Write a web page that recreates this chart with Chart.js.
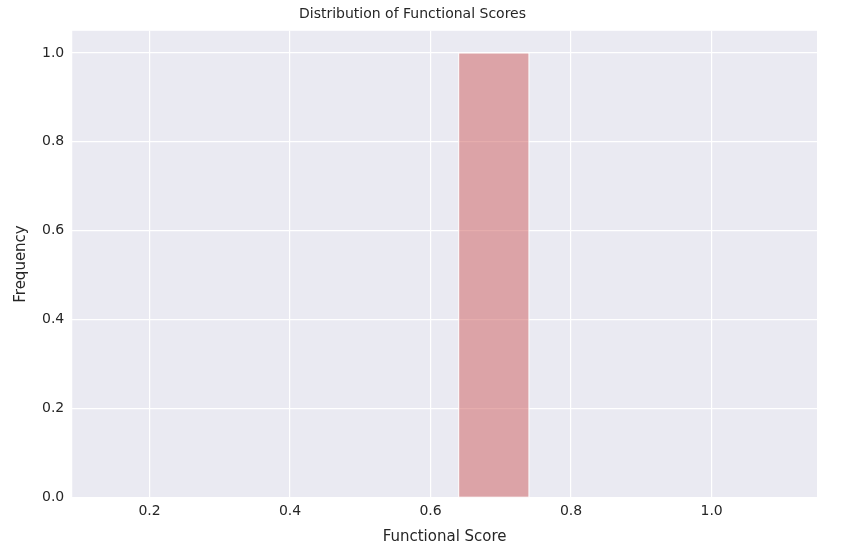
<!DOCTYPE html>
<html>
<head>
<script src="https://cdn.jsdelivr.net/npm/chart.js@4"></script>
<style>
  body { margin: 0; background: #fff; }
  #wrap { width: 855px; height: 556px; }
</style>
</head>
<body>
<div id="wrap"><canvas id="chart"></canvas></div>
<script>
// histogram data: bin edges and counts
const binEdges = [0.64, 0.74];
const binCounts = [1];
const xTicks = [0.2, 0.4, 0.6, 0.8, 1.0];
const yTicks = [0.0, 0.2, 0.4, 0.6, 0.8, 1.0];

const FONT = 'DejaVu Sans';
const TEXT = '#262626';

// plot background + bars drawn through the chart's scales
const histPlugin = {
    id: 'histPlugin',
    beforeDraw(chart) {
        const { ctx, chartArea: { top, bottom, left, right } } = chart;
        ctx.save();
        ctx.fillStyle = '#EAEAF2';
        ctx.fillRect(left, top, right - left, bottom - top);
        ctx.restore();
    },
    afterDatasetsDraw(chart) {
        const { ctx, scales: { x, y } } = chart;
        ctx.save();
        for (let i = 0; i < binCounts.length; i++) {
            const x0 = x.getPixelForValue(binEdges[i]);
            const x1 = x.getPixelForValue(binEdges[i + 1]);
            const y0 = y.getPixelForValue(0);
            const y1 = y.getPixelForValue(binCounts[i]);
            ctx.fillStyle = 'rgba(205, 92, 92, 0.5)';
            ctx.fillRect(x0, y1, x1 - x0, y0 - y1);
            ctx.strokeStyle = '#ffffff';
            ctx.lineWidth = 1;
            ctx.strokeRect(x0, y1, x1 - x0, y0 - y1);
        }
        ctx.restore();
    }
};

new Chart(document.getElementById('chart'), {
    type: 'scatter',
    data: { datasets: [{ data: [], showLine: false }] },
    options: {
        responsive: true,
        maintainAspectRatio: false,
        animation: false,
        layout: { padding: { left: 8, right: 38, top: 4, bottom: 6 } },
        plugins: {
            legend: { display: false },
            tooltip: { enabled: false },
            title: {
                display: true,
                text: 'Distribution of Functional Scores',
                color: TEXT,
                font: { family: FONT, size: 14, weight: 'normal' },
                padding: { top: 2, bottom: 8 }
            }
        },
        scales: {
            x: {
                type: 'linear',
                min: 0.09, max: 1.15,
                afterBuildTicks(axis) { axis.ticks = xTicks.map(v => ({ value: v })); },
                ticks: { color: TEXT, font: { family: FONT, size: 14 }, padding: 6,
                    callback: v => v.toFixed(1) },
                grid: { color: '#ffffff', lineWidth: 1.2, drawTicks: false },
                border: { display: false },
                title: { display: true, text: 'Functional Score', color: TEXT,
                    font: { family: FONT, size: 15 }, padding: { top: 2 } }
            },
            y: {
                min: 0, max: 1.05,
                afterBuildTicks(axis) { axis.ticks = yTicks.map(v => ({ value: v })); },
                ticks: { color: TEXT, font: { family: FONT, size: 14 }, padding: 8,
                    callback: v => v.toFixed(1) },
                grid: { color: '#ffffff', lineWidth: 1.2, drawTicks: false },
                border: { display: false },
                title: { display: true, text: 'Frequency', color: TEXT,
                    font: { family: FONT, size: 15 }, padding: { bottom: 4 } }
            }
        }
    },
    plugins: [histPlugin]
});
</script>
</body>
</html>
